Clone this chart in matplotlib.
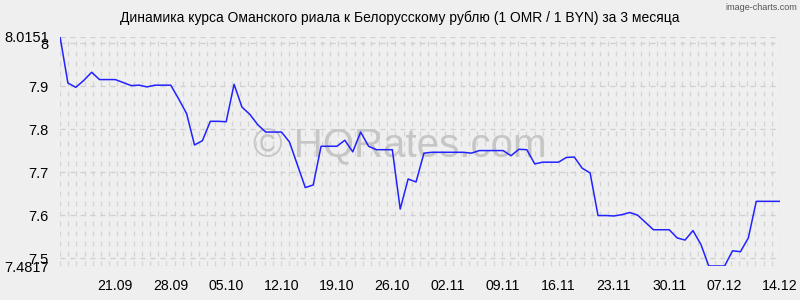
import numpy as np
import pandas as pd
import matplotlib
matplotlib.use("Agg")
import matplotlib.pyplot as plt

plt.rcParams["font.family"] = ["Liberation Sans", "DejaVu Sans"]

TITLE = "Динамика курса Оманского риала к Белорусскому рублю (1 OMR / 1 BYN) за 3 месяца"

start_date = "2023-09-14"
rates = [
    8.0151, 7.907, 7.897, 7.913, 7.932, 7.915, 7.915, 7.915, 7.908, 7.901,
    7.902, 7.898, 7.902, 7.902, 7.902, 7.870, 7.836, 7.763, 7.773, 7.818,
    7.818, 7.817, 7.904, 7.851, 7.834, 7.810, 7.793, 7.793, 7.793, 7.770,
    7.717, 7.664, 7.670, 7.760, 7.760, 7.760, 7.774, 7.747, 7.793, 7.760,
    7.752, 7.752, 7.752, 7.614, 7.684, 7.677, 7.744, 7.746, 7.746, 7.746,
    7.746, 7.746, 7.744, 7.750, 7.750, 7.750, 7.750, 7.738, 7.753, 7.752,
    7.719, 7.723, 7.723, 7.723, 7.734, 7.735, 7.709, 7.698, 7.599, 7.599,
    7.598, 7.601, 7.606, 7.600, 7.583, 7.566, 7.566, 7.566, 7.547, 7.542,
    7.564, 7.532, 7.4817, 7.4817, 7.4817, 7.517, 7.515, 7.547, 7.632, 7.632,
    7.632, 7.632,
]
tick_dates = ["21.09", "28.09", "05.10", "12.10", "19.10", "26.10", "02.11",
              "09.11", "16.11", "23.11", "30.11", "07.12", "14.12"]
y_ticks = [7.4817, 7.5, 7.6, 7.7, 7.8, 7.9, 8.0, 8.0151]
y_labels = ["7.4817", "7.5", "7.6", "7.7", "7.8", "7.9", "8", "8.0151"]

dates = pd.date_range(start_date, periods=len(rates))
day_labels = [d.strftime("%d.%m") for d in dates]
x = np.arange(len(rates))

bg = "#efefef"
fig = plt.figure(figsize=(8, 3), dpi=100, facecolor=bg)
ax = fig.add_axes([0.075, 0.1133, 0.9, 0.765])
ax.set_facecolor(bg)

# dashed grid
for gx in np.linspace(0, len(rates) - 1, 89):
    ax.axvline(gx, color="#d4d4d4", lw=0.9, ls=(0, (4, 4)), zorder=1)
for gy in y_ticks:
    ax.axhline(gy, color="#cfcfcf", lw=0.9, ls=(0, (4, 4)), zorder=1)

ax.plot(x, rates, color="#2222ff", lw=1.1, zorder=3)

ax.set_xlim(0, len(rates) - 1)
ax.set_ylim(min(rates), max(rates))
ax.set_xticks([day_labels.index(t) for t in tick_dates])
ax.set_xticklabels(tick_dates, fontsize=10.2)
ax.set_yticks(y_ticks)
ax.set_yticklabels(y_labels, fontsize=10.5)
ax.tick_params(length=0, pad=8)
ax.tick_params(axis="x", pad=9)
for s in ax.spines.values():
    s.set_visible(False)

fig.text(0.5, 0.94, TITLE, ha="center", va="center", fontsize=10)
fig.text(0.996, 0.975, "image-charts.com", ha="right", va="center",
         fontsize=6.5, color="#555555")
ax.text(0.472, 0.52, "© HQRates.com", transform=ax.transAxes, ha="center",
        va="center", fontsize=29, color="#c6c6c6", zorder=2)

fig.savefig("out.png", dpi=100, facecolor=bg)
